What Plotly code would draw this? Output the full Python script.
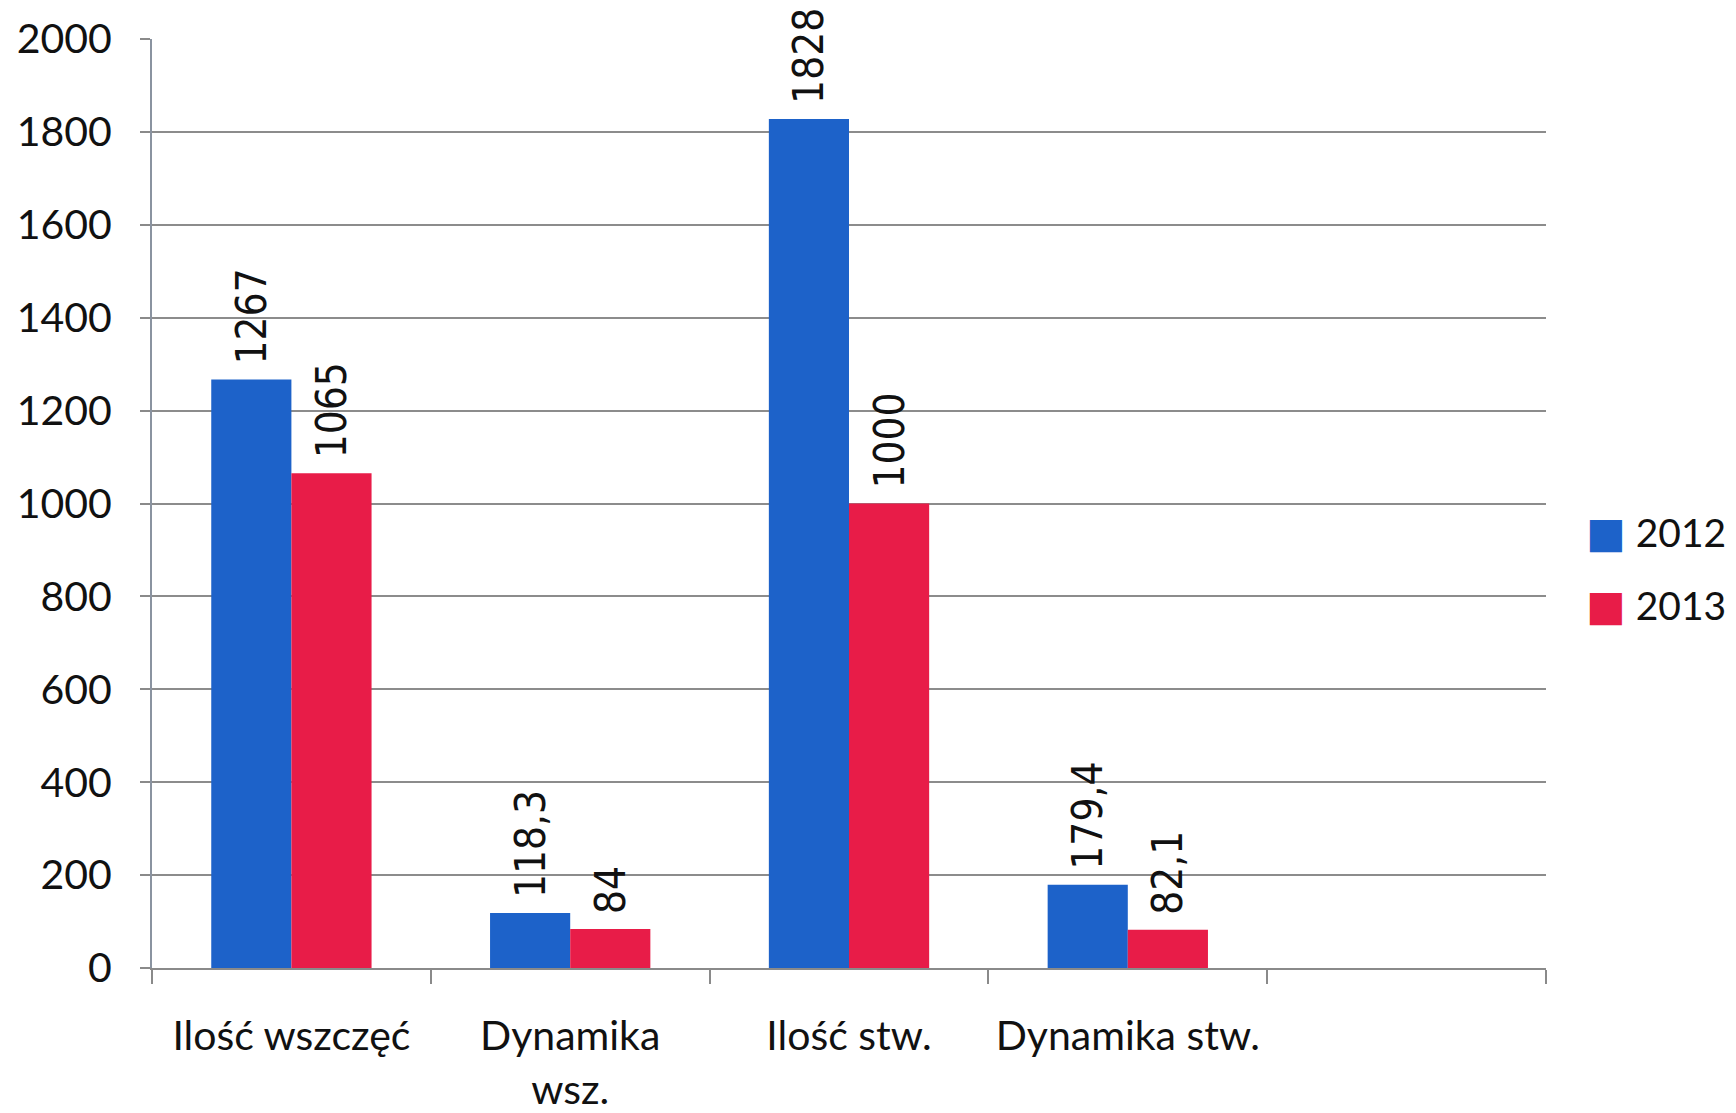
import plotly.graph_objects as go

# categories (fifth slot on the axis is left empty, as in the original)
categories = ['Ilość wszczęć', 'Dynamika<br>wsz.', 'Ilość stw.', 'Dynamika stw.', ' ']
values_2012 = [1267, 118.3, 1828, 179.4]
values_2013 = [1065, 84, 1000, 82.1]
series_names = ['2012', '2013']
y_ticks = [0, 200, 400, 600, 800, 1000, 1200, 1400, 1600, 1800, 2000]

COLORS = ['#1d62c9', '#e81c48']
TICK_FONT = dict(family='Lato, Open Sans, sans-serif', size=41, color='#111111')
LABEL_FONT = dict(family='DejaVu Sans Condensed, DejaVu Sans, sans-serif', size=42, color='#111111')


def fmt(v):
    # leading space keeps the label a little above the bar, as in the original
    return ' ' + f'{v:g}'.replace('.', ',')


fig = go.Figure()

for name, vals, color in zip(series_names, [values_2012, values_2013], COLORS):
    fig.add_trace(
        go.Bar(
            x=categories[:len(vals)],
            y=vals,
            name=name,
            legendgroup=name,
            showlegend=False,
            marker=dict(color=color, line_width=0),
            text=[fmt(v) for v in vals],
            textposition='outside',
            textangle=-90,
            textfont=LABEL_FONT,
            constraintext='none',
            cliponaxis=False,
        )
    )
    # legend entry with a large square like the original
    fig.add_trace(
        go.Scatter(
            x=[None],
            y=[None],
            mode='markers',
            marker=dict(color='rgba(0,0,0,0)', size=1),
            name=f'<span style="color:{color};font-family:DejaVu Sans;font-size:42px">■</span> {name}',
            legendgroup=name,
            showlegend=True,
        )
    )

fig.update_xaxes(
    type='category',
    categoryorder='array',
    categoryarray=categories,
    range=[-0.5, len(categories) - 0.5],
    showline=True,
    linecolor='#8a8a8a',
    linewidth=2,
    ticks='outside',
    tickson='boundaries',
    ticklen=14,
    tickwidth=2,
    tickcolor='#8a8a8a',
    tickfont=TICK_FONT,
    tickangle=0,
    ticklabelstandoff=31,
    showgrid=False,
    automargin=False,
)

fig.update_yaxes(
    range=[0, 2000],
    tickvals=y_ticks,
    showline=True,
    linecolor='#8a93a0',
    linewidth=2,
    ticks='outside',
    ticklen=10,
    tickwidth=1.5,
    tickcolor='#8a8a8a',
    tickfont=TICK_FONT,
    ticklabelstandoff=20,
    showgrid=True,
    gridcolor='#8c8c8c',
    gridwidth=1.5,
    zeroline=False,
    automargin=False,
)

fig.update_layout(
    barmode='group',
    bargap=0.425,
    bargroupgap=0,
    width=1728,
    height=1105,
    margin=dict(l=144, r=190, t=31, b=145, autoexpand=False),
    plot_bgcolor='white',
    paper_bgcolor='white',
    legend=dict(
        x=1.0,
        xanchor='left',
        y=0.43,
        yanchor='middle',
        font=dict(family='Lato, Open Sans, sans-serif', size=39, color='#111111'),
        tracegroupgap=20,
        itemwidth=30,
    ),
)

fig.write_html('out.html')
